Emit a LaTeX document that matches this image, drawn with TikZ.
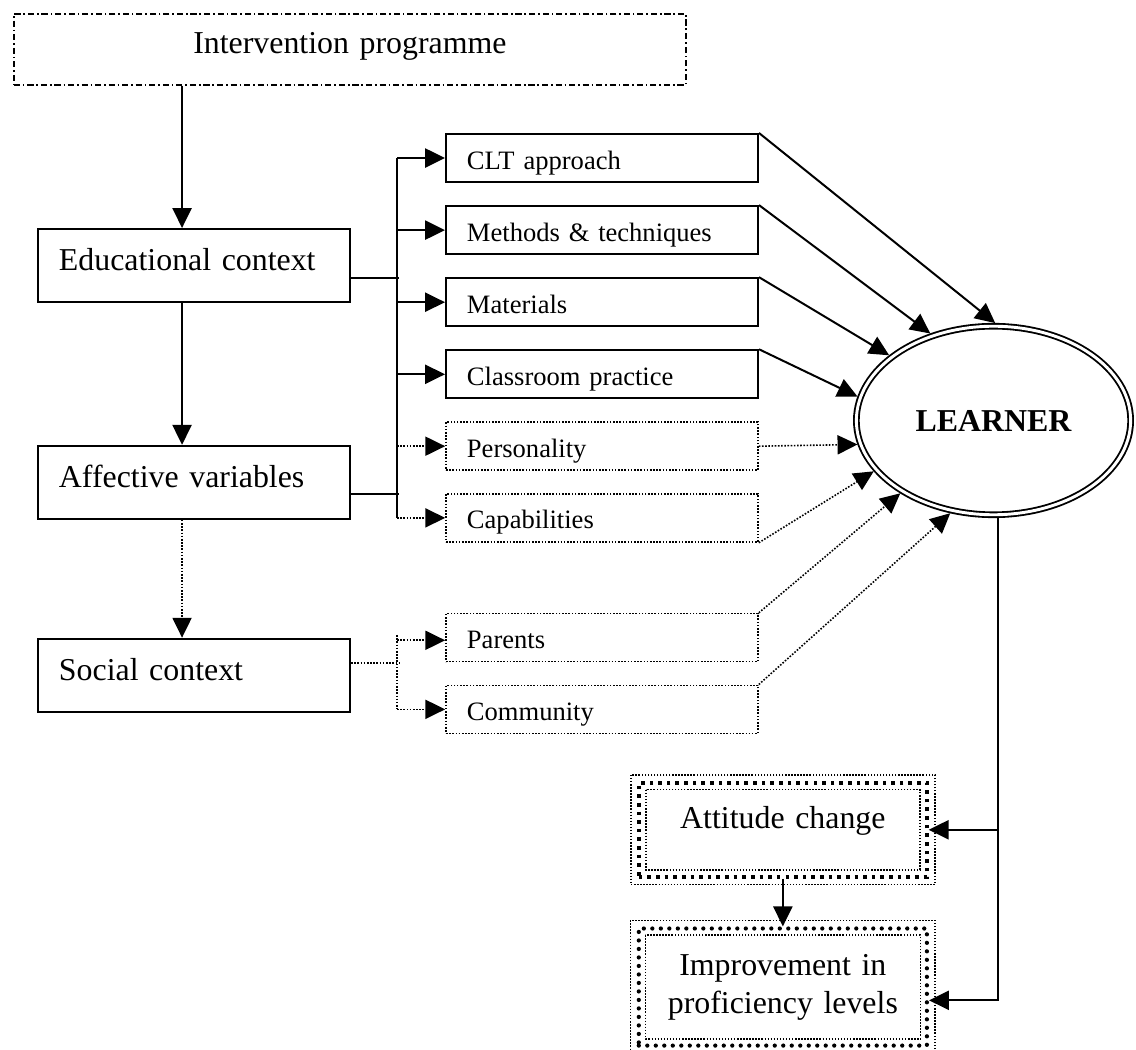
\documentclass[tikz,border=0pt]{standalone}
\usepackage{fontspec}
\setmainfont{Liberation Serif}
\usetikzlibrary{arrows.meta,positioning,shapes.geometric}

\begin{document}
\begin{tikzpicture}[
        x=0.3766pt, y=-0.3766pt,
        node distance=8.3pt,
        link/.style={line width=0.75pt},
        dotlink/.style={line width=0.6pt, dash pattern=on 0.6pt off 0.6pt},
        arrow/.style={link, -{Triangle[length=7.5pt, width=7.2pt]}},
        dotarrow/.style={dotlink, -{Triangle[length=7.5pt, width=7.2pt]}},
        thinframe/.style={line width=0.55pt, dash pattern=on 0.55pt off 0.6pt},
        progbox/.style={draw, line width=0.65pt, dash pattern=on 2.3pt off 1.1pt on 0.6pt off 1.1pt,
            font=\fontsize{12}{14.3}\selectfont, align=center, text width=240.1pt,
            inner xsep=6.5pt, inner ysep=0pt, text height=15.1pt, text depth=11.6pt},
        bigbox/.style={draw, line width=0.75pt, font=\fontsize{12}{14.3}\selectfont, align=left,
            text width=101.7pt, inner xsep=7.9pt, inner ysep=0pt, text height=15.8pt, text depth=11.7pt},
        smallbox/.style={draw, line width=0.75pt, font=\fontsize{10}{12}\selectfont, align=left,
            text width=101.7pt, inner xsep=7.9pt, inner ysep=0pt, text height=13.2pt, text depth=4.9pt},
        dotbox/.style={smallbox, line width=0.6pt, dash pattern=on 0.6pt off 0.6pt},
        outbox/.style={draw, font=\fontsize{12}{14.3}\selectfont, align=center, text width=100pt,
            inner xsep=4.25pt, inner ysep=0pt},
        attbox/.style={outbox, line width=1.35pt, dash pattern=on 1.35pt off 1.9pt, text height=17.3pt, text depth=18.1pt},
        impbox/.style={outbox, line width=1.6pt, line cap=round, dash pattern=on 0pt off 3.2pt, text height=17.7pt, text depth=26.4pt},
        learnerstyle/.style={ellipse, draw, double, line width=0.7pt, double distance=1.1pt, inner sep=0pt,
            outer sep=1.2pt, minimum width=103.3pt, minimum height=71pt, font=\fontsize{12}{14.3}\selectfont\bfseries}
    ]
        \useasboundingbox (0,0) rectangle (1136,1050);

        \node[progbox, anchor=north west] (interv) at (13,13) {Intervention programme};

        \node[bigbox, anchor=north west] (educ) at (37,228) {Educational context};
        \node[bigbox, below=53.4pt of educ] (aff) {Affective variables};
        \node[bigbox, below=44.4pt of aff] (soc) {Social context};

        \node[smallbox, anchor=north west] (clt) at (445,133) {CLT approach};
        \node[smallbox, below=of clt] (meth) {Methods \& techniques};
        \node[smallbox, below=of meth] (mat) {Materials};
        \node[smallbox, below=of mat] (class) {Classroom practice};
        \node[dotbox, below=of class] (pers) {Personality};
        \node[dotbox, below=of pers] (cap) {Capabilities};
        \node[dotbox, below=26.4pt of cap] (par) {Parents};
        \node[dotbox, below=of par] (com) {Community};

        \node[learnerstyle] (learner) at (993.5,420.5) {LEARNER};

        \node[attbox, anchor=north west] (att) at (637,781) {Attitude change};
        \node[impbox, below=18pt of att] (imp) {Improvement in\\proficiency levels};
        \foreach \n in {att,imp} {
            \draw[thinframe] ([shift={(-2.3pt,2.3pt)}]\n.north west) rectangle ([shift={(2.3pt,-2.3pt)}]\n.south east);
            \draw[thinframe] ([shift={(3.3pt,-3.3pt)}]\n.north west) rectangle ([shift={(-3.3pt,3.3pt)}]\n.south east);
        }

        % left column
        \coordinate (ed-in) at ([xshift=-4.5pt]educ.north);
        \draw[arrow] (interv.south -| ed-in) -- (ed-in);
        \draw[arrow] ([xshift=-4.5pt]educ.south) -- ([xshift=-4.5pt]aff.north);
        \draw[dotarrow] ([xshift=-4.5pt]aff.south) -- ([xshift=-4.5pt]soc.north);

        % branches
        \coordinate (bus) at (397,0);
        \draw[link] ([yshift=-4.7pt]educ.east) -- ++(48,0);
        \draw[link] ([yshift=-4.5pt]aff.east) -- ++(48,0);
        \draw[link] (bus |- clt.west) -- (bus |- cap.west);
        \foreach \n in {clt,meth,mat,class}
            \draw[arrow] (bus |- \n.west) -- (\n.west);
        \foreach \n in {pers,cap}
            \draw[dotarrow] (bus |- \n.west) -- (\n.west);
        \draw[dotlink] ([yshift=4.5pt]soc.east) -- ++(48,0);
        \draw[dotlink] ([yshift=1pt]bus |- par.west) -- (bus |- com.west);
        \draw[dotarrow] ([yshift=-1pt]bus |- par.west) -- ([yshift=-1pt]par.west);
        \draw[dotarrow] (bus |- com.west) -- (com.west);

        % into the learner
        \draw[arrow] (clt.north east) -- (learner.89);
        \draw[arrow] (meth.north east) -- (learner.126);
        \draw[arrow] (mat.north east) -- (learner.148);
        \draw[arrow] (class.north east) -- (learner.170);
        \draw[dotarrow] (pers.east) -- (learner.190);
        \draw[dotarrow] (cap.south east) -- (learner.203);
        \draw[dotarrow] (par.north east) -- (learner.218);
        \draw[dotarrow] (com.north east) -- (learner.245);

        % outcomes
        \draw[arrow] ([xshift=1.7pt]learner.south) |- (att.east);
        \draw[arrow] ([xshift=1.7pt]learner.south) |- ([yshift=-5pt]imp.east);
        \draw[arrow] (att.south) -- (imp.north);
    \end{tikzpicture}
\end{document}
